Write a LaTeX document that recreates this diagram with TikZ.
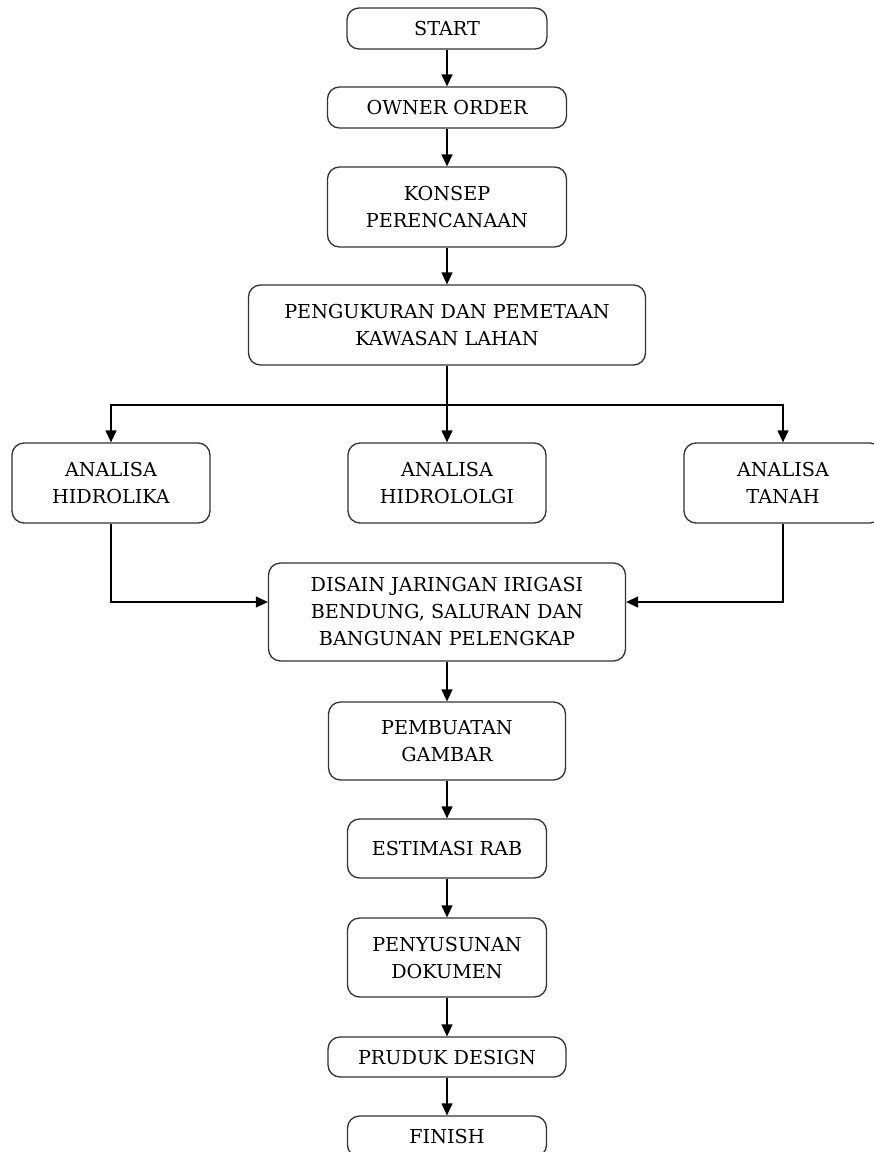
\documentclass[tikz,border=0pt]{standalone}
\usepackage{fontspec}
\setmainfont{DejaVu Serif}
\usetikzlibrary{arrows.meta}
\tikzset{
  box/.style={draw=black!80, line width=1.3pt, rounded corners=12pt, fill=white,
    align=center, inner sep=0pt, font=\fontsize{19.2pt}{27pt}\selectfont},
  arr/.style={line width=1.3pt, -{Triangle[width=11pt,length=12pt]}},
  ln/.style={line width=1.3pt}
}
\begin{document}
\begin{tikzpicture}[x=1pt,y=-1pt]
\clip (0,0) rectangle (874,1152);
\fill[white] (0,0) rectangle (874,1152);
\node[box, minimum width=200pt, minimum height=41pt] (start) at (447,28.5) {START};
\node[box, minimum width=239pt, minimum height=41pt] (owner) at (447,107.5) {OWNER ORDER};
\node[box, minimum width=239pt, minimum height=80pt] (konsep) at (447,207) {KONSEP\\PERENCANAAN};
\node[box, minimum width=397pt, minimum height=80pt] (peng) at (447,325) {PENGUKURAN DAN PEMETAAN\\KAWASAN LAHAN};
\node[box, minimum width=198pt, minimum height=80pt] (hidrolika) at (111,483) {ANALISA\\HIDROLIKA};
\node[box, minimum width=198pt, minimum height=80pt] (hidrologi) at (447,483) {ANALISA\\HIDROLOLGI};
\node[box, minimum width=198pt, minimum height=80pt] (tanah) at (783,483) {ANALISA\\TANAH};
\node[box, minimum width=357pt, minimum height=98pt] (disain) at (447,612) {DISAIN JARINGAN IRIGASI\\BENDUNG, SALURAN DAN\\BANGUNAN PELENGKAP};
\node[box, minimum width=237pt, minimum height=78pt] (gambar) at (447,741) {PEMBUATAN\\GAMBAR};
\node[box, minimum width=199pt, minimum height=59pt] (rab) at (447,848.5) {ESTIMASI RAB};
\node[box, minimum width=199pt, minimum height=79pt] (dokumen) at (447,957.5) {PENYUSUNAN\\DOKUMEN};
\node[box, minimum width=238pt, minimum height=40pt] (produk) at (447,1057) {PRUDUK DESIGN};
\node[box, minimum width=199pt, minimum height=41pt] (finish) at (447,1136.5) {FINISH};
\coordinate (split) at (447,405);
\draw[arr] (start) -- (owner);
\draw[arr] (owner) -- (konsep);
\draw[arr] (konsep) -- (peng);
\draw[ln] (peng.south) -- (split);
\draw[arr] (split) -- (hidrologi.north);
\draw[arr] (split) -| (hidrolika.north);
\draw[arr] (split) -| (tanah.north);
\draw[arr] (hidrolika.south) |- ([yshift=10pt]disain.west);
\draw[arr] (tanah.south) |- ([yshift=10pt]disain.east);
\draw[arr] (disain) -- (gambar);
\draw[arr] (gambar) -- (rab);
\draw[arr] (rab) -- (dokumen);
\draw[arr] (dokumen) -- (produk);
\draw[arr] (produk) -- (finish);
\end{tikzpicture}
\end{document}
